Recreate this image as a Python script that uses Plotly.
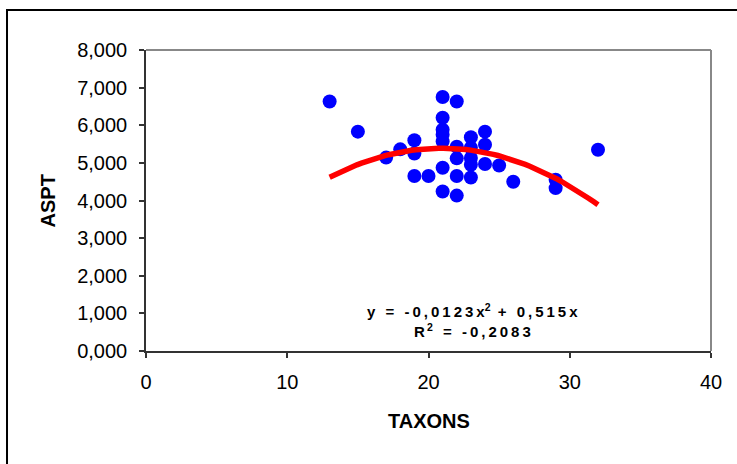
import numpy as np
import plotly.graph_objects as go

# Data (ASPT in thousands, European decimal comma display)
taxons = [13, 15, 17, 18, 19, 19, 19, 20, 21, 21, 21, 21, 21, 21, 21,
          22, 22, 22, 22, 22, 23, 23, 23, 23, 23, 24, 24, 24, 25, 26, 29, 29, 32]
aspt = [6.63, 5.83, 5.14, 5.36, 5.60, 5.25, 4.65, 4.65, 6.75, 6.20, 5.88, 5.75, 5.57, 4.87, 4.24,
        6.63, 5.43, 5.12, 4.65, 4.13, 5.68, 5.40, 5.13, 4.95, 4.61, 5.83, 5.48, 4.97, 4.93, 4.50,
        4.55, 4.33, 5.35]

# Trendline coefficients (polynomial order 2, through origin) as displayed
trend_a = -0.0123
trend_b = 0.515
trend_x = np.linspace(min(taxons), max(taxons), 60)
trend_y = trend_a * trend_x ** 2 + trend_b * trend_x

y_ticks = [0, 1, 2, 3, 4, 5, 6, 7, 8]
x_ticks = [0, 10, 20, 30, 40]

FONT = "Liberation Sans, Arial, sans-serif"

fig = go.Figure()
fig.add_trace(go.Scatter(x=taxons, y=aspt, mode="markers",
                         marker=dict(color="#0000FF", size=14, line=dict(width=0)),
                         showlegend=False))
fig.add_trace(go.Scatter(x=trend_x, y=trend_y, mode="lines",
                         line=dict(color="#FF0000", width=5.5), showlegend=False))


def spaced(s):
    return "\u2009".join(list(s))


eq1 = spaced("y = -0,0123x") + "<sup>2</sup>" + "\u2009 " + spaced("+ 0,515x")
eq2 = spaced("R") + "<sup>\u2009" + "2</sup>" + "\u2009" + spaced(" = -0,2083")

fig.update_layout(
    width=737, height=464,
    margin=dict(l=146, r=26, t=50, b=113),
    paper_bgcolor="white", plot_bgcolor="white",
    separators=",.",
    font=dict(family=FONT, size=20, color="black"),
    xaxis=dict(range=[0, 40], tickvals=x_ticks, showgrid=False, zeroline=False,
               showline=True, linecolor="#333333", linewidth=1.5,
               ticks="outside", ticklen=5, tickcolor="#333333", tickwidth=1.5,
               ticklabelstandoff=7,
               tickfont=dict(family=FONT, size=20, color="black")),
    yaxis=dict(range=[0, 8], tickvals=y_ticks, tickformat=".3f", showgrid=False, zeroline=False,
               showline=True, linecolor="#333333", linewidth=1.5,
               ticks="outside", ticklen=5, tickcolor="#333333", tickwidth=1.5,
               ticklabelstandoff=8,
               tickfont=dict(family=FONT, size=20, color="black")),
    shapes=[
        dict(type="line", xref="paper", yref="paper", x0=0, x1=1, y0=1, y1=1,
             line=dict(color="#888888", width=2)),
        dict(type="line", xref="paper", yref="paper", x0=1, x1=1, y0=0, y1=1,
             line=dict(color="#888888", width=2)),
        dict(type="rect", xref="paper", yref="paper", x0=-0.246, x1=1.06, y0=-0.40, y1=1.133,
             line=dict(color="black", width=2)),
    ],
    annotations=[
        dict(text="<b>ASPT</b>", xref="paper", yref="paper", x=-0.1735, y=0.5,
             textangle=-90, showarrow=False, font=dict(family=FONT, size=20, color="black"),
             xanchor="center", yanchor="middle"),
        dict(text="<b>TAXONS</b>", xref="paper", yref="paper", x=0.5, y=-0.2326,
             showarrow=False, font=dict(family=FONT, size=20, color="black"),
             xanchor="center", yanchor="middle"),
        dict(text="<b>" + eq1 + "</b>", xref="x", yref="y", x=23.14, y=1.07,
             showarrow=False, font=dict(family=FONT, size=15, color="black"),
             xanchor="center", yanchor="middle"),
        dict(text="<b>" + eq2 + "</b>", xref="x", yref="y", x=23.14, y=0.55,
             showarrow=False, font=dict(family=FONT, size=15, color="black"),
             xanchor="center", yanchor="middle"),
    ],
)

fig.write_html("out.html")
